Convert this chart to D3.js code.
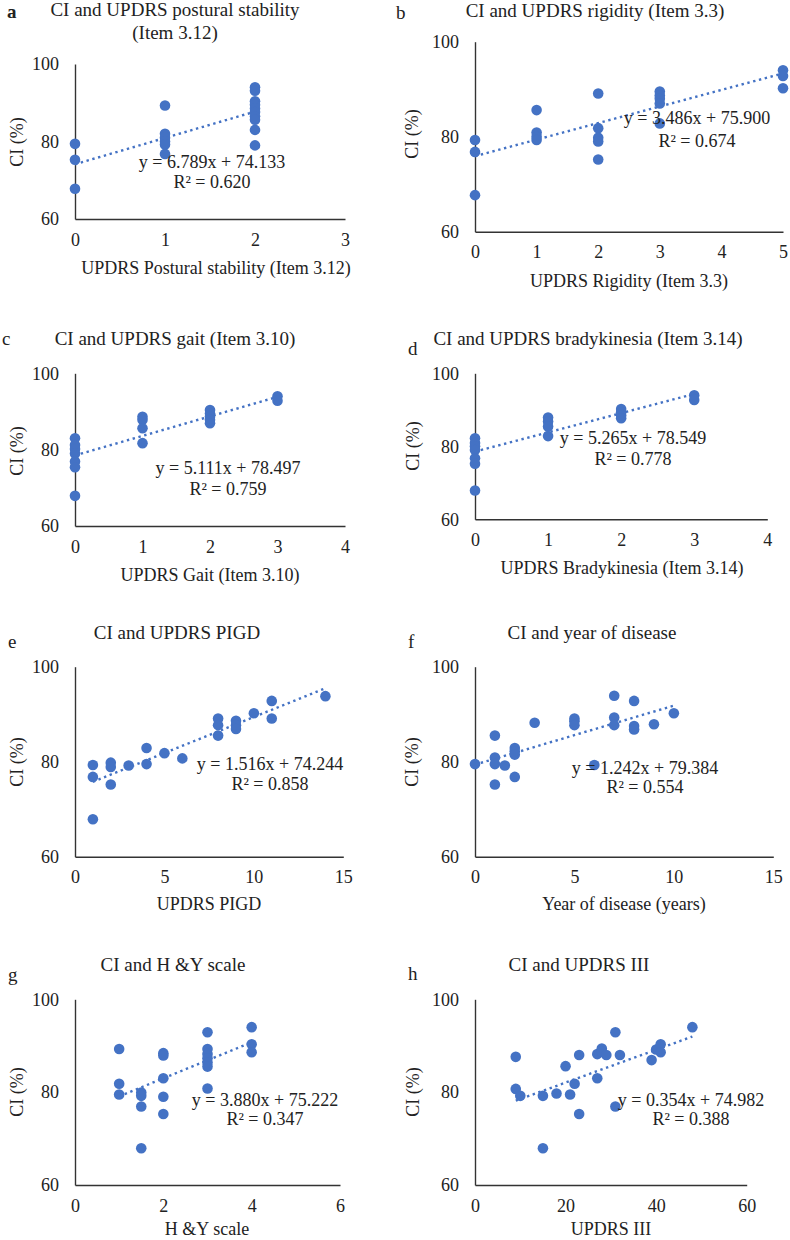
<!DOCTYPE html>
<html>
<head>
<meta charset="utf-8">
<script src="https://cdn.jsdelivr.net/npm/d3@7"></script>
<style>
  html, body { margin: 0; padding: 0; background: #fff; }
  svg { display: block; }
  text { font-family: "Liberation Serif", "Times New Roman", serif; fill: #222; }
</style>
</head>
<body>
<svg id="chart" width="790" height="1240"></svg>
<script>
// ---------------- DATA ----------------
const panelLetters = ["a", "b", "c", "d", "e", "f", "g", "h"];
const panelTitles = [
  ["CI and UPDRS postural stability", "(Item 3.12)"],
  ["CI and UPDRS rigidity (Item 3.3)"],
  ["CI and UPDRS gait (Item 3.10)"],
  ["CI and UPDRS bradykinesia (Item 3.14)"],
  ["CI and UPDRS PIGD"],
  ["CI and year of disease"],
  ["CI and H &Y scale"],
  ["CI and UPDRS III"]
];
const xAxisTitles = [
  "UPDRS Postural stability (Item 3.12)",
  "UPDRS Rigidity (Item 3.3)",
  "UPDRS Gait (Item 3.10)",
  "UPDRS Bradykinesia (Item 3.14)",
  "UPDRS PIGD",
  "Year of disease (years)",
  "H &Y scale",
  "UPDRS III"
];
const yAxisTitle = "CI (%)";
const yTicks = [60, 80, 100];
const xTicks = [
  [0, 1, 2, 3],
  [0, 1, 2, 3, 4, 5],
  [0, 1, 2, 3, 4],
  [0, 1, 2, 3, 4],
  [0, 5, 10, 15],
  [0, 5, 10, 15],
  [0, 2, 4, 6],
  [0, 20, 40, 60]
];
const slopes = [6.789, 3.486, 5.111, 5.265, 1.516, 1.242, 3.880, 0.354];
const intercepts = [74.133, 75.900, 78.497, 78.549, 74.244, 79.384, 75.222, 74.982];
const rSquared = ["0.620", "0.674", "0.759", "0.778", "0.858", "0.554", "0.347", "0.388"];

const posturalPoints = [
  [0, 79.4], [0, 75.3], [0, 67.8],
  [1, 89.3], [1, 82.0], [1, 81.0], [1, 80.0], [1, 79.2], [1, 76.8],
  [2, 94.0], [2, 93.1], [2, 90.4], [2, 89.5], [2, 88.5], [2, 87.6], [2, 86.5], [2, 85.6], [2, 83.0], [2, 79.0]
];
const rigidityPoints = [
  [0, 79.3], [0, 76.8], [0, 67.7],
  [1, 85.6], [1, 80.9], [1, 80.0], [1, 79.3],
  [2, 89.1], [2, 81.8], [2, 79.8], [2, 79.0], [2, 75.2],
  [3, 89.5], [3, 88.7], [3, 88.0], [3, 87.0], [3, 82.8],
  [5, 94.0], [5, 92.8], [5, 90.2]
];
const gaitPoints = [
  [0, 83.0], [0, 81.2], [0, 80.2], [0, 79.0], [0, 76.9], [0, 75.4], [0, 67.9],
  [1, 88.6], [1, 87.8], [1, 85.6], [1, 81.7],
  [2, 90.4], [2, 89.5], [2, 88.6], [2, 87.8], [2, 86.9],
  [3, 94.0], [3, 92.8]
];
const bradykinesiaPoints = [
  [0, 82.2], [0, 80.9], [0, 80.0], [0, 79.0], [0, 76.7], [0, 75.2], [0, 67.9],
  [1, 87.9], [1, 86.8], [1, 85.4], [1, 82.8],
  [2, 90.2], [2, 89.3], [2, 88.5], [2, 87.7],
  [3, 94.0], [3, 92.7]
];
const pigdPoints = [
  [1, 79.3], [1, 76.8], [1, 67.9], [2, 79.8], [2, 78.9], [2, 75.2], [3, 79.2],
  [4, 82.9], [4, 79.5], [5, 81.8], [6, 80.7], [8, 89.1], [8, 87.7], [8, 85.5],
  [9, 88.6], [9, 87.7], [9, 86.9], [10, 90.2], [11, 92.8], [11, 89.1], [14, 93.8]
];
const yearPoints = [
  [0, 79.5], [1, 85.5], [1, 80.9], [1, 79.5], [1, 75.2], [1.5, 79.2],
  [2, 82.9], [2, 82.2], [2, 81.5], [2, 76.8], [3, 88.2], [5, 89.1], [5, 88.5], [5, 87.7],
  [6, 79.3], [7, 93.9], [7, 89.3], [7, 87.7], [8, 92.8], [8, 87.5], [8, 86.8], [9, 87.9], [10, 90.2]
];
const hyPoints = [
  [1, 89.3], [1, 81.8], [1, 79.5], [1.5, 79.9], [1.5, 79.2], [1.5, 76.9], [1.5, 67.9],
  [2, 88.4], [2, 87.9], [2, 83.0], [2, 79.0], [2, 75.3],
  [3, 92.9], [3, 89.3], [3, 88.2], [3, 87.3], [3, 86.4], [3, 85.5], [3, 80.8],
  [4, 94.0], [4, 90.3], [4, 88.6]
];
const updrs3Points = [
  [9, 87.6], [9, 80.7], [10, 79.2], [15, 79.2], [15, 67.9], [18, 79.7], [20, 85.6],
  [21, 79.5], [22, 81.8], [23, 88.0], [23, 75.3], [27, 83.0], [27, 88.2], [28, 89.4],
  [28, 88.7], [29, 88.0], [31, 92.9], [31, 76.9], [32, 88.0], [39, 86.9], [40, 89.2],
  [41, 90.3], [41, 88.6], [48, 94.0]
];
const allPoints = [posturalPoints, rigidityPoints, gaitPoints, bradykinesiaPoints,
                   pigdPoints, yearPoints, hyPoints, updrs3Points];

// ---------------- LAYOUT (pixel geometry) ----------------
const layout = [
  { l: 75,  r: 345,   t: 64,    b: 219,   title: [175, 16, 23],   letter: [7, 18, true],
    xt: [216, 274],  yt: [17, 142],  eq: [212, 168, 188] },
  { l: 475, r: 783,   t: 41.7,  b: 231.7, title: [595, 17, 23],   letter: [396, 19, false],
    xt: [629, 287],  yt: [412, 134], eq: [697, 124, 147] },
  { l: 75,  r: 345,   t: 373.3, b: 526,   title: [175, 345, 23],  letter: [2, 345, false],
    xt: [210, 581],  yt: [17, 451],  eq: [228, 474, 495] },
  { l: 475, r: 767.3, t: 373.3, b: 519.3, title: [588, 345, 23],  letter: [408, 355, false],
    xt: [622, 574],  yt: [413, 446], eq: [633, 444, 465] },
  { l: 75,  r: 343.3, t: 666.7, b: 856.7, title: [177, 639, 23],  letter: [8, 648, false],
    xt: [209, 910],  yt: [17, 762],  eq: [270, 770, 790] },
  { l: 475, r: 773.3, t: 666.7, b: 856.7, title: [592, 639, 23],  letter: [408, 648, false],
    xt: [624, 910],  yt: [412, 762], eq: [645, 774, 793] },
  { l: 75,  r: 340,   t: 999.3, b: 1185,  title: [173, 971, 23],  letter: [8, 981, false],
    xt: [207, 1235], yt: [17, 1092], eq: [265, 1106, 1125] },
  { l: 475, r: 746.7, t: 999.3, b: 1185,  title: [579, 971, 23],  letter: [408, 980, false],
    xt: [611, 1235], yt: [413, 1092], eq: [691, 1106, 1125] }
];

const BLUE = "#4472C4";
const FS = 18;
const svg = d3.select("#chart");

layout.forEach((L, i) => {
  const g = svg.append("g");
  const xTickVals = xTicks[i];
  const x = d3.scaleLinear().domain([xTickVals[0], xTickVals[xTickVals.length - 1]]).range([L.l, L.r]);
  const y = d3.scaleLinear().domain([yTicks[0], yTicks[yTicks.length - 1]]).range([L.b, L.t]);

  // axes (D3 axis generators, styled like Excel: no tick marks)
  const xAxis = g.append("g").attr("transform", `translate(0,${L.b})`)
    .call(d3.axisBottom(x).tickValues(xTickVals).tickSize(0).tickPadding(14).tickFormat(d3.format("d")));
  const yAxis = g.append("g").attr("transform", `translate(${L.l},0)`)
    .call(d3.axisLeft(y).tickValues(yTicks).tickSize(0).tickPadding(16).tickFormat(d3.format("d")));
  [xAxis, yAxis].forEach(ax => {
    ax.select(".domain").attr("stroke", "#333").attr("stroke-width", 1.4);
    ax.selectAll("text").style("font-family", '"Liberation Serif", "Times New Roman", serif')
      .style("font-size", FS + "px").attr("fill", "#222");
  });

  // trend line
  const pts = allPoints[i];
  const ext = d3.extent(pts, d => d[0]);
  const line = d3.line().x(d => x(d)).y(d => y(slopes[i] * d + intercepts[i]));
  g.append("path").datum(ext).attr("d", line)
    .attr("fill", "none").attr("stroke", BLUE).attr("stroke-width", 2.4)
    .attr("stroke-dasharray", "2.4 3.6");

  // points
  g.selectAll("circle.pt").data(pts).join("circle")
    .attr("class", "pt")
    .attr("cx", d => x(d[0])).attr("cy", d => y(d[1]))
    .attr("r", 5.3).attr("fill", BLUE);

  // title
  panelTitles[i].forEach((t, k) => {
    g.append("text").attr("x", L.title[0]).attr("y", L.title[1] + k * L.title[2])
      .attr("text-anchor", "middle").style("font-size", "19px").text(t);
  });
  // panel letter
  g.append("text").attr("x", L.letter[0]).attr("y", L.letter[1])
    .style("font-size", "19px").style("font-weight", L.letter[2] ? "bold" : "normal")
    .text(panelLetters[i]);

  // axis titles
  g.append("text").attr("x", L.xt[0]).attr("y", L.xt[1])
    .attr("text-anchor", "middle").style("font-size", FS + "px").text(xAxisTitles[i]);
  g.append("text").attr("transform", `translate(${L.yt[0]},${L.yt[1]}) rotate(-90)`)
    .attr("text-anchor", "middle").attr("dy", "0.35em").style("font-size", FS + "px").text(yAxisTitle);

  // equation
  g.append("text").attr("x", L.eq[0]).attr("y", L.eq[1]).attr("text-anchor", "middle")
    .style("font-size", FS + "px")
    .text(`y = ${slopes[i].toFixed(3)}x + ${intercepts[i].toFixed(3)}`);
  g.append("text").attr("x", L.eq[0]).attr("y", L.eq[2]).attr("text-anchor", "middle")
    .style("font-size", FS + "px")
    .text(`R² = ${rSquared[i]}`);
});
</script>
</body>
</html>
